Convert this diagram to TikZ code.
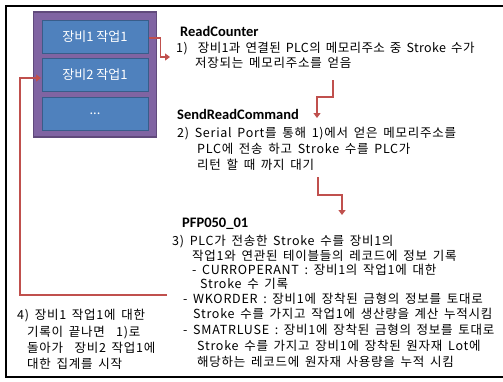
\documentclass[tikz,border=0pt]{standalone}
\usepackage{fontspec}
\setmainfont{Noto Sans CJK KR}[LetterSpace=6, WordSpace=1.6]
\newfontfamily\boxfont{Noto Sans CJK KR}
\newfontfamily\titlefont{Carlito}
\usetikzlibrary{arrows.meta}
\definecolor{boxpurple}{HTML}{8064A2}
\definecolor{edgepurple}{HTML}{604A7B}
\definecolor{boxblue}{HTML}{4F81BD}
\definecolor{edgeblue}{HTML}{385D8A}
\definecolor{arrowred}{HTML}{C0504D}
\begin{document}
\begin{tikzpicture}[x=1pt,y=-1pt,
  txt/.style={anchor=base west, inner sep=0pt, font=\fontsize{12.5}{14}\selectfont},
  ttl/.style={anchor=base west, inner sep=0pt, font=\titlefont\bfseries\fontsize{14.5}{16}\selectfont},
  bluebox/.style={draw=edgeblue, fill=boxblue, line width=1pt, text=white, font=\boxfont\fontsize{13}{14}\selectfont},
  flow/.style={draw=arrowred, line width=1.8pt, -{Triangle[length=5pt,width=7pt]}},
  frame/.style={draw=black, line width=1.8pt}]
\useasboundingbox (0,0) rectangle (503,381);
\fill[white] (0,0) rectangle (503,381);
% frame
\draw[frame] (503,6) -- (6,6) -- (6,377) -- (503,377);
% purple container and blue boxes
\node[draw=edgepurple, fill=boxpurple, line width=1.2pt, minimum width=123pt, minimum height=125pt, inner sep=0pt] (cont) at (95,74.5) {};
\node[bluebox, minimum width=106pt, minimum height=33pt, inner sep=0pt] (b1) at (95,36.5) {장비1 작업1};
\node[bluebox, minimum width=106pt, minimum height=33pt, inner sep=0pt] (b2) at (95,75) {장비2 작업1};
\node[bluebox, minimum width=106pt, minimum height=33pt, inner sep=0pt] (b3) at (95,113.5) {...};
% ReadCounter
\node[ttl] (t1) at (180,36.5) {ReadCounter};
\node[txt, font=\addfontfeatures{LetterSpace=3}\fontsize{12.5}{14}\selectfont] (l11) at (176,52.5) {1)\ \ 장비1과 연결된 PLC의 메모리주소 중 Stroke 수가};
\node[txt] (l12) at (195,67.5) {저장되는 메모리주소를 얻음};
% SendReadCommand
\node[ttl] (t2) at (177,119.5) {SendReadCommand};
\node[txt] (l21) at (177,137.5) {2) Serial Port를 통해 1)에서 얻은 메모리주소를};
\node[txt] (l22) at (197,153.5) {PLC에 전송 하고 Stroke 수를 PLC가};
\node[txt] (l23) at (197,169.5) {리턴 할 때 까지 대기};
% PFP050_01
\node[ttl] (t3) at (182,227.5) {PFP050\_01};
\node[txt] (l31) at (172,245) {3) PLC가 전송한 Stroke 수를 장비1의};
\node[txt] (l32) at (192,260.5) {작업1와 연관된 테이블들의 레코드에 정보 기록};
\node[txt] (l33) at (192,274) {- CURROPERANT : 장비1의 작업1에 대한};
\node[txt] (l34) at (200,288.5) {Stroke 수 기록};
\node[txt] (l35) at (183,303) {- WKORDER : 장비1에 장착된 금형의 정보를 토대로};
\node[txt] (l36) at (193,318.5) {Stroke 수를 가지고 작업1에 생산량을 계산 누적시킴};
\node[txt] (l37) at (183,334) {- SMATRLUSE : 장비1에 장착된 금형의 정보를 토대로};
\node[txt] (l38) at (197,350.5) {Stroke 수를 가지고 장비1에 장착된 원자재 Lot에};
\node[txt] (l39) at (197,366.5) {해당하는 레코드에 원자재 사용량을 누적 시킴};
% step 4
\node[txt] (l41) at (17,319.5) {4) 장비1 작업1에 대한};
\node[txt] (l42) at (27,336) {기록이 끝나면\ \ 1)로};
\node[txt] (l43) at (27,352.5) {돌아가\ \ 장비2 작업1에};
\node[txt] (l44) at (27,368.5) {대한 집계를 시작};
% connectors
\coordinate (a1) at (170,57);
\draw[flow] (b1.east) ++(0,1.5) -- ++(12,0) |- (a1);
\coordinate (a2s) at (333,80);
\coordinate (a2e) at (317,118);
\draw[flow] (a2s) -- ++(0,17) -| (a2e);
\coordinate (a3s) at (318,177);
\coordinate (a3e) at (342,215);
\draw[flow] (a3s) -- ++(0,18) -| (a3e);
\coordinate (a4s) at (167,295);
\coordinate (a4t) at (41,78);
\draw[flow] (a4s) -- (20,295) |- (a4t);
\end{tikzpicture}
\end{document}
